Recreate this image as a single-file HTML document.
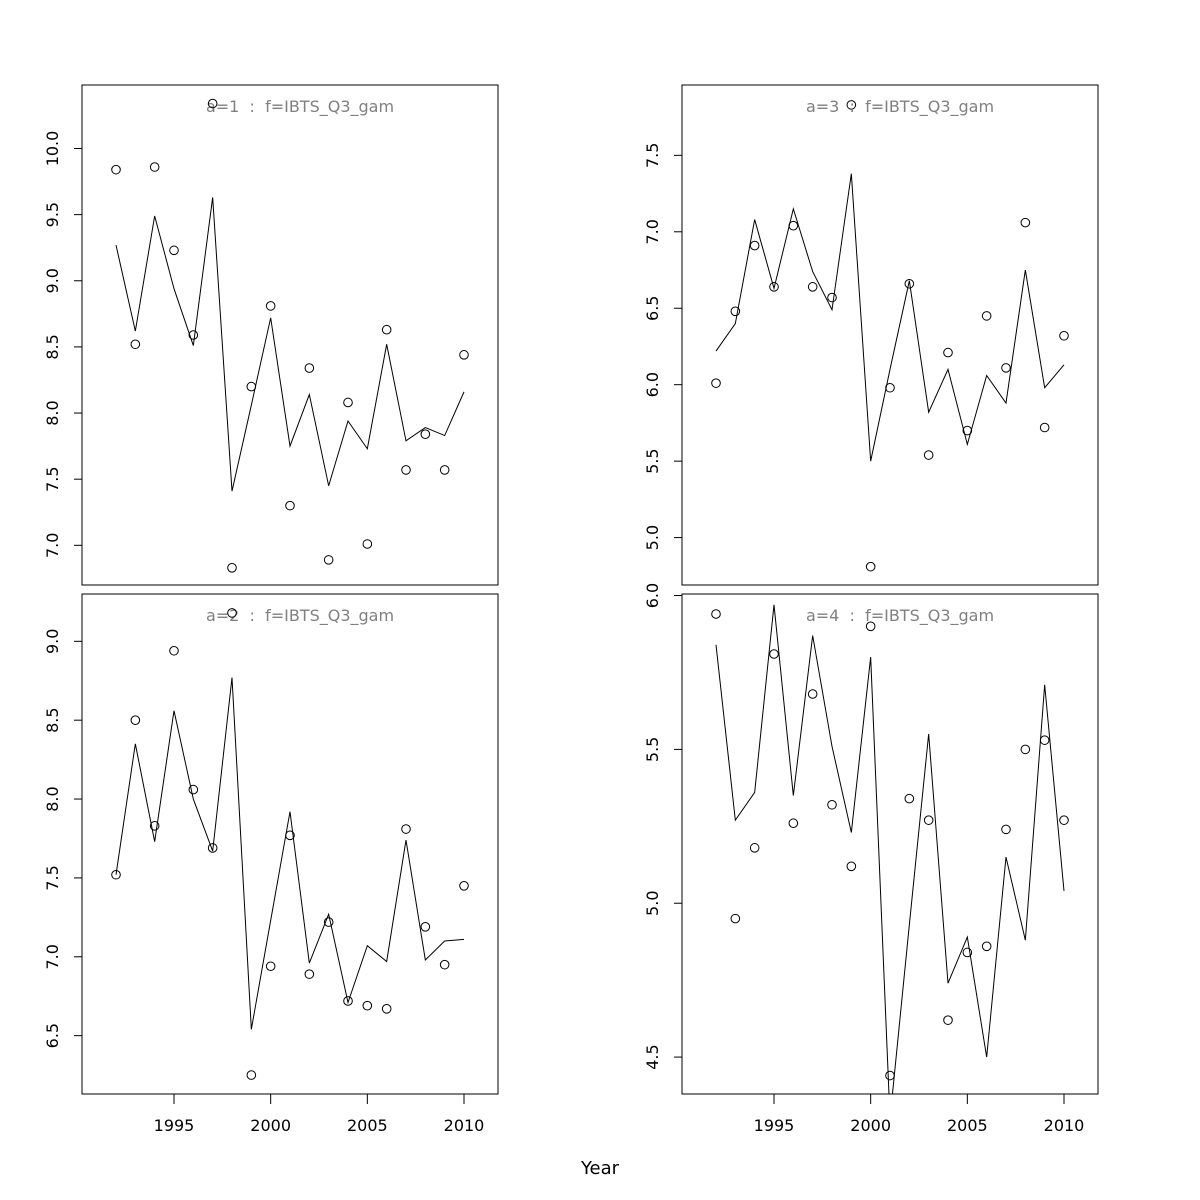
<!DOCTYPE html>
<html><head><meta charset="utf-8"><style>
html,body{margin:0;padding:0;background:#fff;}
svg{display:block;font-family:"DejaVu Sans","Liberation Sans",sans-serif;}
svg text{white-space:pre;}
</style></head><body>
<svg id="chart" width="1200" height="1200" xmlns="http://www.w3.org/2000/svg"></svg>
<script>
const years = [1992,1993,1994,1995,1996,1997,1998,1999,2000,2001,2002,2003,2004,2005,2006,2007,2008,2009,2010];
const xTicks = [1995,2000,2005,2010];
const obsA1 = [9.84,8.52,9.86,9.23,8.59,10.34,6.83,8.20,8.81,7.30,8.34,6.89,8.08,7.01,8.63,7.57,7.84,7.57,8.44];
const fitA1 = [9.27,8.62,9.49,8.94,8.51,9.63,7.41,8.06,8.72,7.75,8.14,7.45,7.94,7.73,8.52,7.79,7.89,7.83,8.16];
const obsA2 = [7.52,8.50,7.83,8.94,8.06,7.69,9.18,6.25,6.94,7.77,6.89,7.22,6.72,6.69,6.67,7.81,7.19,6.95,7.45];
const fitA2 = [7.52,8.35,7.73,8.56,8.00,7.67,8.77,6.54,7.23,7.92,6.96,7.27,6.71,7.07,6.97,7.74,6.98,7.10,7.11];
const obsA3 = [6.01,6.48,6.91,6.64,7.04,6.64,6.57,7.83,4.81,5.98,6.66,5.54,6.21,5.70,6.45,6.11,7.06,5.72,6.32];
const fitA3 = [6.22,6.40,7.08,6.63,7.15,6.74,6.49,7.38,5.50,6.10,6.68,5.82,6.10,5.61,6.06,5.88,6.75,5.98,6.13];
const obsA4 = [5.94,4.95,5.18,5.81,5.26,5.68,5.32,5.12,5.90,4.44,5.34,5.27,4.62,4.84,4.86,5.24,5.50,5.53,5.27];
const fitA4 = [5.84,5.27,5.36,5.97,5.35,5.87,5.51,5.23,5.80,4.30,4.93,5.55,4.74,4.89,4.50,5.15,4.88,5.71,5.04];
const ticksA1 = [7.0,7.5,8.0,8.5,9.0,9.5,10.0];
const ticksA2 = [6.5,7.0,7.5,8.0,8.5,9.0];
const ticksA3 = [5.0,5.5,6.0,6.5,7.0,7.5];
const ticksA4 = [4.5,5.0,5.5,6.0];

const NS="http://www.w3.org/2000/svg";
const svg=document.getElementById('chart');
function mk(tag,attrs,parent){const e=document.createElementNS(NS,tag);for(const k in attrs)e.setAttribute(k,attrs[k]);(parent||svg).appendChild(e);return e;}

const panels=[
 {n:1,x0:82,x1:498,y0:85,y1:585,ymin:6.70,ymax:10.48,obs:obsA1,fit:fitA1,ticks:ticksA1,xaxis:false},
 {n:2,x0:82,x1:498,y0:594,y1:1094,ymin:6.13,ymax:9.30,obs:obsA2,fit:fitA2,ticks:ticksA2,xaxis:true},
 {n:3,x0:682,x1:1098,y0:85,y1:585,ymin:4.69,ymax:7.96,obs:obsA3,fit:fitA3,ticks:ticksA3,xaxis:false},
 {n:4,x0:682,x1:1098,y0:594,y1:1094,ymin:4.38,ymax:6.005,obs:obsA4,fit:fitA4,ticks:ticksA4,xaxis:true}
];
panels.forEach(p=>{
  const g=mk('g',{});
  
  
  const xs=v=>p.x0+34+(v-1992)*(p.x1-p.x0-68)/18;
  const ys=v=>p.y1-(v-p.ymin)/(p.ymax-p.ymin)*(p.y1-p.y0);
  const cid='clip'+p.n;
  const cp=mk('clipPath',{id:cid},g);mk('rect',{x:p.x0,y:p.y0,width:p.x1-p.x0,height:p.y1-p.y0},cp);
  const frame=mk('rect',{x:p.x0,y:p.y0,width:p.x1-p.x0,height:p.y1-p.y0,fill:'none',stroke:'#000','stroke-width':1},g);
  
  
  const title=mk('text',{x:(p.x0+p.x1)/2+10,y:p.y0+27,'text-anchor':'middle','font-size':16,fill:'#808080'},g);
  title.textContent='a='+p.n+'  :  f=IBTS_Q3_gam';
  
  
  const yax=mk('g',{},g);
  
  
  p.ticks.forEach(t=>{
    const y=ys(t);
    mk('line',{x1:p.x0-8,x2:p.x0,y1:y,y2:y,stroke:'#000'},yax);
    const tx=mk('text',{x:0,y:0,transform:`translate(${p.x0-24},${y}) rotate(-90)`,'text-anchor':'middle','font-size':16},yax);
    tx.textContent=t.toFixed(1);
    
    
  });
  if(p.xaxis){
    const xax=mk('g',{},g);
    
    
    xTicks.forEach(t=>{
      const x=xs(t);
      mk('line',{x1:x,x2:x,y1:p.y1,y2:p.y1+10,stroke:'#000'},xax);
      const tx=mk('text',{x:x,y:p.y1+37,'text-anchor':'middle','font-size':16},xax);
      tx.textContent=t;
      
      
    });
  }
  const pts=p.fit.map((v,i)=>xs(years[i])+','+ys(v)).join(' ');
  const line=mk('polyline',{points:pts,fill:'none',stroke:'#000','stroke-width':1,'clip-path':`url(#${cid})`},g);
  
  
  p.obs.forEach((v,i)=>{
    const c=mk('circle',{cx:xs(years[i]),cy:ys(v),r:4.3,fill:'none',stroke:'#000','stroke-width':1},g);
    
    
  });
});
const xl=mk('text',{x:600,y:1174,'text-anchor':'middle','font-size':18});
xl.textContent='Year';


</script>
</body></html>
